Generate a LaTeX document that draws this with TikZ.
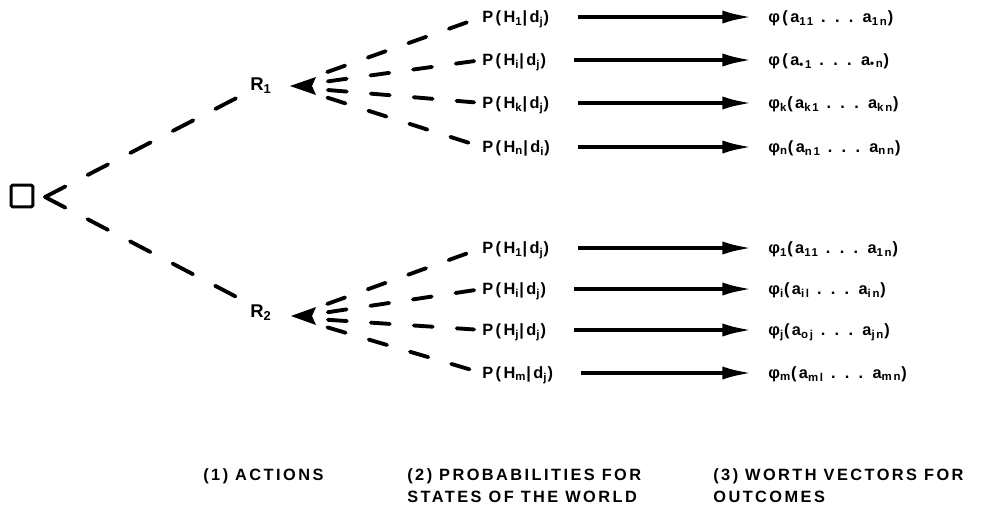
\documentclass[tikz,border=0pt]{standalone}
\usepackage{fontspec}
\setmainfont{Liberation Sans}[LetterSpace=15]
\usetikzlibrary{arrows.meta,calc}
\newcommand{\lo}[1]{\textsubscript{#1}}
\tikzset{
  lbl/.style={inner sep=0pt, anchor=west, font=\bfseries\fontsize{9.3}{11}\selectfont,
    text height=6.7pt, text depth=0pt},
  rlbl/.style={lbl, font=\bfseries\fontsize{10.5}{12}\selectfont, text height=7.6pt},
  capt/.style={inner sep=0pt, anchor=north west, align=left,
    font=\bfseries\fontsize{9.3}{12.5}\selectfont},
  branch/.style={line width=2.2pt, line cap=round, dash pattern=on 13.1pt off 14.2pt},
  fan/.style={line width=2.2pt, line cap=round, dash pattern=on 10.8pt off 13.7pt,
    shorten <=6.8pt, shorten >=4.5pt},
  worth/.style={line width=2.2pt, -{Latex[length=17pt,width=7.5pt]},
    shorten <=16pt, shorten >=9pt},
}
\begin{document}
\begin{tikzpicture}[x=0.02cm, y=-0.02cm]
    \useasboundingbox (0,0) rectangle (981,511);

    % Decision point
    \node[draw, line width=1.7pt, minimum size=12.5pt, inner sep=0pt,
      rounded corners=1pt] (dec) at (22,196) {};
    \coordinate (fork) at (45,197);

    % (1) Actions
    \node[rlbl] (r1) at (250,84) {R\lo{1}};
    \node[rlbl] (r2) at (250,311) {R\lo{2}};
    \draw[branch, shorten >=7.7pt] (fork) -- (r1.south west);
    \draw[branch, shorten >=7.7pt] (fork) -- (r2.north west);

    % Hubs of the fans, arrowheads pointing at the actions
    \coordinate (hub1) at (316,86);
    \coordinate (hub2) at (316,316);
    \fill[line join=round] ($(hub1)+(0,-9)$) -- ($(hub1)+(-26,0)$) -- ($(hub1)+(0,9)$)
      -- ($(hub1)+(-4,0)$) -- cycle;
    \fill[line join=round] ($(hub2)+(0,-9)$) -- ($(hub2)+(-25,0)$) -- ($(hub2)+(0,9)$)
      -- ($(hub2)+(-4,0)$) -- cycle;

    % (2) Probabilities, first action
    \node[lbl] (pa1) at (482,17) {P(H\lo{1}|d\lo{j})};
    \node[lbl] (pa2) at (482,60) {P(H\lo{i}|d\lo{j})};
    \node[lbl] (pa3) at (482,103) {P(H\lo{k}|d\lo{j})};
    \node[lbl] (pa4) at (482,147) {P(H\lo{n}|d\lo{i})};

    % (2) Probabilities, second action
    \node[lbl] (pb1) at (482,248) {P(H\lo{1}|d\lo{j})};
    \node[lbl] (pb2) at (482,289) {P(H\lo{i}|d\lo{j})};
    \node[lbl] (pb3) at (482,330) {P(H\lo{j}|d\lo{j})};
    \node[lbl] (pb4) at (482,373) {P(H\lo{m}|d\lo{j})};

    % Fans
    \draw[fan] ($(hub1)+(0,-10)$) -- (pa1.west);
    \draw[fan] ($(hub1)+(0,-3)$) -- (pa2.west);
    \draw[fan] ($(hub1)+(0,3)$) -- (pa3.west);
    \draw[fan] ($(hub1)+(0,8)$) -- (pa4.west);
    \draw[fan] ($(hub2)+(0,-8)$) -- (pb1.west);
    \draw[fan] ($(hub2)+(0,-2)$) -- (pb2.west);
    \draw[fan] ($(hub2)+(0,3)$) -- (pb3.west);
    \draw[fan] ($(hub2)+(0,8)$) -- (pb4.west);

    % (3) Worth vectors
    \node[lbl] (wa1) at (768,17) {φ(a\lo{11} . . . a\lo{1n})};
    \node[lbl] (wa2) at (768,60) {φ(a\lo{\textbullet 1} . . . a\lo{\textbullet n})};
    \node[lbl] (wa3) at (768,103) {φ\lo{k}(a\lo{k1} . . . a\lo{kn})};
    \node[lbl] (wa4) at (768,147) {φ\lo{n}(a\lo{n1} . . . a\lo{nn})};
    \node[lbl] (wb1) at (768,248) {φ\lo{1}(a\lo{11} . . . a\lo{1n})};
    \node[lbl] (wb2) at (768,289) {φ\lo{i}(a\lo{il} . . . a\lo{in})};
    \node[lbl] (wb3) at (768,330) {φ\lo{j}(a\lo{oj} . . . a\lo{jn})};
    \node[lbl] (wb4) at (768,373) {φ\lo{m}(a\lo{ml} . . . a\lo{mn})};

    % Outcome arrows
    \draw[worth] (pa1) -- (wa1);
    \draw[worth] (pa2) -- (wa2);
    \draw[worth] (pa3) -- (wa3);
    \draw[worth] (pa4) -- (wa4);
    \draw[worth] (pb1) -- (wb1);
    \draw[worth] (pb2) -- (wb2);
    \draw[worth] (pb3) -- (wb3);
    \draw[worth] (pb4) -- (wb4);

    % Column captions
    \node[capt] (cap1) at (203,468) {(1) ACTIONS};
    \node[capt] (cap2) at (407,468) {(2) PROBABILITIES FOR\\STATES OF THE WORLD};
    \node[capt] (cap3) at (713,468) {(3) WORTH VECTORS FOR\\OUTCOMES};

\end{tikzpicture}
\end{document}
